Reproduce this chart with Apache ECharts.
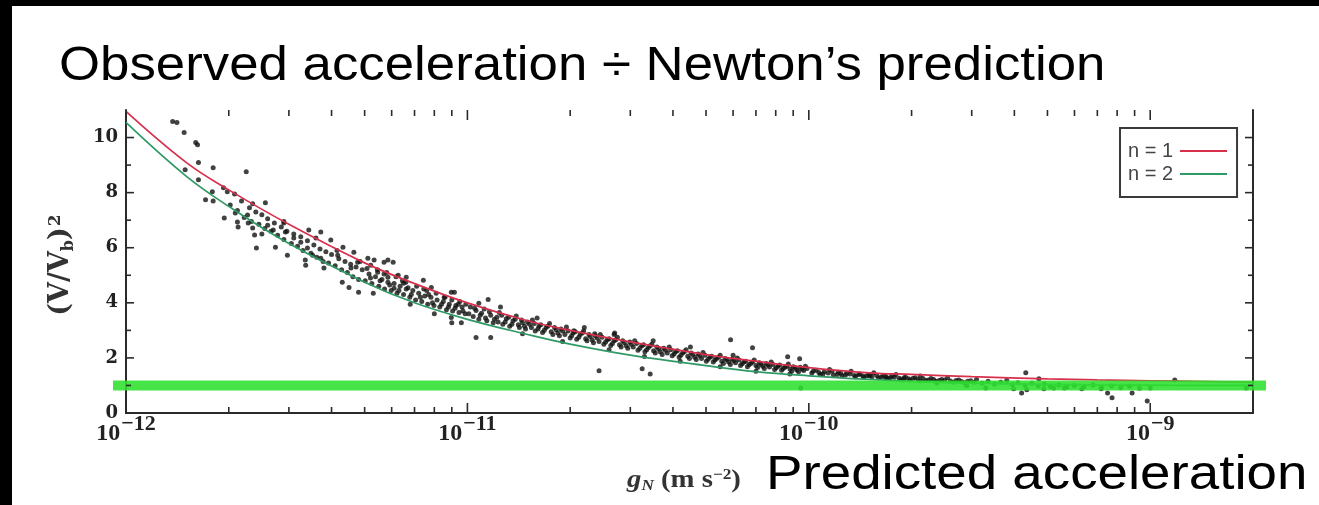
<!DOCTYPE html>
<html>
<head>
<meta charset="utf-8">
<script src="https://cdn.jsdelivr.net/npm/echarts@6/dist/echarts.min.js"></script>
<style>
html,body{margin:0;padding:0;background:#fff;overflow:hidden;}
#c{position:absolute;left:0;top:0;width:1319px;height:505px;}
.blk{position:absolute;background:#000;z-index:5;}
</style>
</head>
<body>
<div id="c"></div>
<div class="blk" style="left:0;top:0;width:12px;height:505px;"></div>
<div class="blk" style="left:0;top:0;width:1319px;height:6px;"></div>
<script>
// ---- data (gN in m s^-2, ratio = (V/Vb)^2) ----
const X_UNIT = 1e-12;                 // axis works in units of 1e-12 m s^-2
const X_MIN = 1e-12, X_MAX = 2e-9;
const Y_MIN = 0, Y_MAX = 11, Y_STEP = 2;
const BAND_LEVEL = 1;                 // highlighted Newtonian ratio

const curveG  = [1e-12,1.5e-12,2e-12,3e-12,5e-12,7e-12,1e-11,1.5e-11,2e-11,3e-11,5e-11,7e-11,1e-10,1.5e-10,2e-10,3e-10,5e-10,7e-10,1e-9,1.5e-9,2e-9];
const curveN1 = [10.95,9.1,8.1,6.85,5.45,4.7,4.0,3.35,3.0,2.58,2.12,1.88,1.65,1.46,1.4,1.32,1.24,1.2,1.17,1.14,1.12];
const curveN2 = [10.55,8.6,7.5,6.15,4.75,4.0,3.4,2.85,2.5,2.1,1.72,1.5,1.35,1.22,1.15,1.08,1.04,1.02,1.01,1.0,1.0];

const ptsLeft = [[1.37e-12,10.58],[1.41e-12,10.55],[1.48e-12,10.18],[1.6e-12,9.82],[1.62e-12,9.74],[1.63e-12,9.09],[1.49e-12,8.83],[1.63e-12,8.47],[1.8e-12,8.9],[2.25e-12,8.76],[1.71e-12,7.74],[1.8e-12,7.7],[1.79e-12,8.03],[1.93e-12,8.18],[1.98e-12,8.03],[1.94e-12,7.08],[2.09e-12,7.26],[2.12e-12,6.93],[2.13e-12,6.75],[2.27e-12,7.19],[2.28e-12,6.9],[2.35e-12,6.72],[2.38e-12,6.46],[2.41e-12,5.99],[2.56e-12,7.63],[2.74e-12,6.02],[2.6e-12,6.82],[2.7e-12,6.64],[2.9e-12,6.9],[2.93e-12,6.57],[2.97e-12,5.73],[3.1e-12,6.35],[3.25e-12,6.2],[3.43e-12,6.64],[3.72e-12,6.57],[3.4e-12,5.99],[3.52e-12,5.73],[3.36e-12,5.36],[3.8e-12,5.26],[3.72e-12,5.62],[3.98e-12,6.28],[4.32e-12,6.02],[4.17e-12,5.73],[4.65e-12,5.84],[4.77e-12,5.47],[4.56e-12,5.26],[4.5e-12,4.56],[4.8e-12,4.38],[5.11e-12,5.62],[5.21e-12,5.36],[5.33e-12,5.55],[5.7e-12,5.47],[5.85e-12,5.55],[6.06e-12,5.47],[5.46e-12,5.11],[5.85e-12,4.93],[6.27e-12,5.0],[6.62e-12,4.93],[6.1e-12,4.53],[6.5e-12,4.71],[7.43e-12,4.82],[7.84e-12,4.56],[8.97e-12,4.38]];

const ptsCloudA = [[2.02e-12,7.55],[2.08e-12,7.95],[2.12e-12,7.35],[2.18e-12,7.7],[2.22e-12,7.1],[2.3e-12,7.45],[2.33e-12,6.95],[2.4e-12,7.3],[2.45e-12,6.85],[2.5e-12,7.2],[2.55e-12,6.7],[2.6e-12,7.05],[2.66e-12,6.6],[2.72e-12,6.9],[2.78e-12,6.45],[2.85e-12,6.75],[2.9e-12,6.3],[2.96e-12,6.6],[3.05e-12,6.15],[3.1e-12,6.5],[3.18e-12,6.05],[3.25e-12,6.4],[3.3e-12,5.9],[3.4e-12,6.25],[3.48e-12,5.8],[3.55e-12,6.1],[3.62e-12,5.65],[3.7e-12,5.95],[3.78e-12,5.5],[3.85e-12,5.85],[3.92e-12,5.45],[4.0e-12,5.75],[4.1e-12,5.35],[4.2e-12,5.6],[4.28e-12,5.2],[4.38e-12,5.5],[4.45e-12,5.1],[4.55e-12,5.4],[4.62e-12,4.95],[4.72e-12,5.3],[4.8e-12,4.85],[4.92e-12,5.2],[5.02e-12,4.8],[5.15e-12,5.05],[5.25e-12,4.7],[5.38e-12,4.95],[5.5e-12,4.6],[5.62e-12,4.85],[5.72e-12,4.5],[5.85e-12,4.75],[5.98e-12,4.45],[6.1e-12,4.7],[6.22e-12,4.35],[6.35e-12,4.6],[6.5e-12,4.3],[6.62e-12,4.5],[6.78e-12,4.2],[6.92e-12,4.45],[7.05e-12,4.1],[7.2e-12,4.35],[7.35e-12,4.05],[7.5e-12,4.25],[7.65e-12,3.95],[7.82e-12,4.2],[7.98e-12,3.9],[8.15e-12,4.1],[8.3e-12,3.85],[8.5e-12,4.05],[8.68e-12,3.75],[8.85e-12,3.95],[9.05e-12,3.7],[9.25e-12,3.9],[9.45e-12,3.65],[9.65e-12,3.85],[9.85e-12,3.6],[2.5e-12,6.5],[3.35e-12,5.55],[4.3e-12,4.75],[5.3e-12,4.35],[6.8e-12,3.95],[8.0e-12,3.6],[2.35e-12,7.6],[2.9e-12,6.95],[3.6e-12,6.35],[4.15e-12,5.9],[4.85e-12,5.5],[5.7e-12,5.05],[6.6e-12,4.75],[7.6e-12,4.45],[8.6e-12,4.2],[9.5e-12,4.05]];

const ptsCloudA2 = [[5.08e-12,5.25],[5.2e-12,4.9],[5.45e-12,5.2],[5.55e-12,4.8],[5.8e-12,5.1],[5.92e-12,4.65],[6.18e-12,4.95],[6.3e-12,4.45],[6.45e-12,4.8],[6.7e-12,4.55],[6.85e-12,4.3],[7.1e-12,4.6],[7.28e-12,4.2],[7.45e-12,4.5],[7.7e-12,4.3],[7.9e-12,4.0],[8.1e-12,4.35],[8.4e-12,3.95],[8.55e-12,4.2],[8.8e-12,3.85],[9.0e-12,4.1],[9.2e-12,3.8],[9.4e-12,3.95],[9.7e-12,3.7],[9.9e-12,3.95]];

const ptsCloudB = [[1.02e-11,3.85],[1.04e-11,3.5],[1.06e-11,3.72],[1.08e-11,3.4],[1.1e-11,3.62],[1.12e-11,3.78],[1.14e-11,3.35],[1.17e-11,3.55],[1.19e-11,3.28],[1.22e-11,3.48],[1.24e-11,3.65],[1.27e-11,3.22],[1.3e-11,3.42],[1.33e-11,3.15],[1.36e-11,3.35],[1.39e-11,3.52],[1.42e-11,3.1],[1.45e-11,3.28],[1.48e-11,3.05],[1.52e-11,3.22],[1.55e-11,3.38],[1.58e-11,2.98],[1.62e-11,3.15],[1.66e-11,2.92],[1.7e-11,3.1],[1.74e-11,3.25],[1.78e-11,2.85],[1.82e-11,3.02],[1.86e-11,2.8],[1.9e-11,2.98],[1.95e-11,3.12],[2.0e-11,2.72],[2.04e-11,2.9],[2.09e-11,2.68],[2.14e-11,2.85],[2.19e-11,2.98],[2.24e-11,2.62],[2.29e-11,2.78],[2.34e-11,2.55],[2.4e-11,2.72],[2.45e-11,2.85],[2.51e-11,2.5],[2.57e-11,2.66],[2.63e-11,2.45],[2.69e-11,2.62],[2.75e-11,2.75],[2.82e-11,2.4],[2.88e-11,2.55],[2.95e-11,2.35],[3.02e-11,2.5],[3.09e-11,2.62],[3.16e-11,2.28],[3.24e-11,2.44],[3.31e-11,2.22],[3.39e-11,2.38],[3.47e-11,2.5],[3.55e-11,2.18],[3.63e-11,2.32],[3.72e-11,2.12],[3.8e-11,2.28],[3.9e-11,2.4],[3.98e-11,2.08],[4.07e-11,2.22],[4.17e-11,2.02],[4.27e-11,2.18],[4.37e-11,2.3],[4.47e-11,1.98],[4.57e-11,2.12],[4.68e-11,1.94],[4.79e-11,2.08],[4.9e-11,2.2],[5.01e-11,1.88],[5.13e-11,2.02],[5.25e-11,1.85],[5.37e-11,1.98],[5.5e-11,2.1],[5.62e-11,1.8],[5.75e-11,1.93],[5.89e-11,1.76],[6.03e-11,1.9],[6.17e-11,2.0],[6.31e-11,1.72],[6.46e-11,1.85],[6.61e-11,1.68],[6.76e-11,1.8],[6.92e-11,1.92],[7.08e-11,1.65],[7.24e-11,1.77],[7.41e-11,1.62],[7.59e-11,1.74],[7.76e-11,1.85],[7.94e-11,1.58],[8.13e-11,1.7],[8.32e-11,1.55],[8.51e-11,1.66],[8.71e-11,1.78],[8.91e-11,1.52],[9.12e-11,1.63],[9.33e-11,1.5],[9.55e-11,1.6],[9.77e-11,1.7],[1.25e-11,3.85],[1.6e-11,3.45],[2.2e-11,3.1],[2.7e-11,2.9],[3.5e-11,2.62],[4.5e-11,2.4],[6.0e-11,2.1],[1.45e-11,2.88],[1.9e-11,2.6],[2.6e-11,2.3],[3.3e-11,2.05],[4.2e-11,1.88],[5.5e-11,1.68],[7.0e-11,1.52],[8.8e-11,1.42]];

const ptsCloudB2 = [[1.01e-11,3.6],[1.05e-11,3.8],[1.09e-11,3.55],[1.13e-11,3.45],[1.16e-11,3.68],[1.2e-11,3.4],[1.23e-11,3.3],[1.26e-11,3.55],[1.29e-11,3.3],[1.32e-11,3.48],[1.35e-11,3.22],[1.38e-11,3.4],[1.41e-11,3.2],[1.44e-11,3.38],[1.47e-11,3.15],[1.5e-11,3.3],[1.54e-11,3.1],[1.57e-11,3.25],[1.61e-11,3.05],[1.64e-11,3.2],[1.68e-11,3.0],[1.72e-11,3.15],[1.76e-11,2.95],[1.8e-11,3.1],[1.84e-11,2.9],[1.88e-11,3.05],[1.93e-11,2.85],[1.97e-11,2.98],[2.02e-11,2.8],[2.07e-11,2.95],[2.12e-11,2.75],[2.17e-11,2.9],[2.22e-11,2.7],[2.27e-11,2.85],[2.32e-11,2.65],[2.37e-11,2.8],[2.43e-11,2.6],[2.48e-11,2.75],[2.54e-11,2.58],[2.6e-11,2.7],[2.66e-11,2.52],[2.72e-11,2.66],[2.79e-11,2.48],[2.85e-11,2.62],[2.92e-11,2.44],[2.99e-11,2.58],[3.06e-11,2.4],[3.13e-11,2.52],[3.2e-11,2.35],[3.28e-11,2.48],[3.35e-11,2.3],[3.43e-11,2.44],[3.51e-11,2.26],[3.59e-11,2.4],[3.67e-11,2.22],[3.76e-11,2.35],[3.85e-11,2.18],[3.94e-11,2.3],[4.03e-11,2.14],[4.12e-11,2.26],[4.22e-11,2.1],[4.32e-11,2.22],[4.42e-11,2.06],[4.52e-11,2.18],[4.63e-11,2.02],[4.74e-11,2.14],[4.85e-11,1.98],[4.96e-11,2.1],[5.07e-11,1.95],[5.19e-11,2.06],[5.31e-11,1.92],[5.44e-11,2.02],[5.56e-11,1.88],[5.69e-11,1.98],[5.82e-11,1.85],[5.96e-11,1.95],[6.1e-11,1.82],[6.24e-11,1.92],[6.38e-11,1.79],[6.53e-11,1.88],[6.68e-11,1.75],[6.84e-11,1.85],[7.0e-11,1.72],[7.16e-11,1.82],[7.33e-11,1.7],[7.5e-11,1.8],[7.67e-11,1.67],[7.85e-11,1.76],[8.03e-11,1.64],[8.22e-11,1.74],[8.41e-11,1.62],[8.61e-11,1.7],[8.81e-11,1.6],[9.01e-11,1.68],[9.22e-11,1.56],[9.44e-11,1.66],[9.66e-11,1.54],[9.88e-11,1.62]];

const ptsMid = [[9.16e-12,4.38],[1.08e-11,3.98],[1.15e-11,4.12],[1.06e-11,2.74],[1.17e-11,2.74],[8.97e-12,3.47],[9.0e-12,3.28],[9.6e-12,3.28],[2.43e-11,1.53],[3.25e-11,1.61],[3.43e-11,1.42],[5.9e-11,2.66],[6.84e-11,2.37],[8.67e-11,2.04],[9.4e-11,1.97],[9.47e-11,0.91],[2.69e-11,2.85],[2.36e-11,2.88],[2.05e-11,2.99]];

const ptsCloudC = [[1.02e-10,1.45],[1.05e-10,1.55],[1.08e-10,1.4],[1.11e-10,1.5],[1.15e-10,1.58],[1.18e-10,1.38],[1.22e-10,1.48],[1.25e-10,1.35],[1.29e-10,1.44],[1.33e-10,1.52],[1.37e-10,1.32],[1.41e-10,1.42],[1.45e-10,1.3],[1.5e-10,1.38],[1.55e-10,1.46],[1.6e-10,1.28],[1.65e-10,1.36],[1.7e-10,1.25],[1.75e-10,1.33],[1.8e-10,1.4],[1.86e-10,1.22],[1.92e-10,1.3],[1.98e-10,1.2],[2.05e-10,1.28],[2.12e-10,1.34],[2.2e-10,1.18],[2.28e-10,1.25],[2.36e-10,1.15],[2.45e-10,1.22],[2.55e-10,1.28],[2.65e-10,1.12],[2.75e-10,1.2],[2.86e-10,1.1],[2.98e-10,1.17],[3.1e-10,1.22],[3.22e-10,1.08],[3.35e-10,1.15],[3.5e-10,1.05],[3.65e-10,1.12],[3.8e-10,1.18],[3.95e-10,1.03],[4.1e-10,1.1],[4.3e-10,1.0],[4.5e-10,1.08],[4.7e-10,0.98],[4.9e-10,1.05],[5.1e-10,0.96],[5.4e-10,1.02],[5.7e-10,0.94],[6.0e-10,1.0],[6.4e-10,0.95],[6.8e-10,1.02],[7.2e-10,0.93],[7.7e-10,0.98],[8.2e-10,0.92],[8.7e-10,0.97],[9.3e-10,0.9]];

const ptsCloudC2 = [[1.03e-10,1.52],[1.07e-10,1.47],[1.1e-10,1.42],[1.14e-10,1.45],[1.17e-10,1.52],[1.21e-10,1.4],[1.24e-10,1.44],[1.28e-10,1.38],[1.32e-10,1.42],[1.36e-10,1.36],[1.4e-10,1.4],[1.44e-10,1.34],[1.48e-10,1.35],[1.53e-10,1.32],[1.58e-10,1.36],[1.63e-10,1.3],[1.68e-10,1.33],[1.73e-10,1.28],[1.78e-10,1.3],[1.84e-10,1.26],[1.9e-10,1.28],[1.96e-10,1.24],[2.02e-10,1.26],[2.09e-10,1.22],[2.16e-10,1.25],[2.24e-10,1.2],[2.32e-10,1.22],[2.41e-10,1.18],[2.5e-10,1.2],[2.6e-10,1.16],[2.7e-10,1.18],[2.8e-10,1.14],[2.92e-10,1.15],[3.05e-10,1.12]];

const ptsRight = [[4.32e-10,1.46],[4.72e-10,1.24],[4.2e-10,0.73],[3.98e-10,0.88],[4.35e-10,0.84],[4.88e-10,0.88],[5.22e-10,0.91],[5.6e-10,0.91],[6.3e-10,0.88],[7.18e-10,0.88],[7.73e-10,0.55],[7.5e-10,0.73],[8.85e-10,0.73],[9.8e-10,0.44],[1.0e-9,0.91],[1.91e-9,0.91],[1.18e-9,1.2],[2.9e-10,0.99],[3.3e-10,0.91],[2.37e-10,1.09],[2.12e-10,1.17],[1.89e-10,1.2],[1.68e-10,1.28],[1.51e-10,1.35]];

// axis decoration: tick positions
const DECADES = [1e-12,1e-11,1e-10,1e-9];
const MINOR_MANTISSAS = [2,3,4,5,6,7,8,9];
const Y_MAJOR_TICKS = [0,2,4,6,8,10];
const Y_MINOR_TICKS = [1,3,5,7,9];

// ---- build ----
const toAxis = p => [p[0] / X_UNIT, p[1]];
const allPts = [].concat(ptsLeft, ptsCloudA, ptsCloudA2, ptsCloudB, ptsCloudB2, ptsMid, ptsCloudC, ptsCloudC2, ptsRight).map(toAxis);
const n1Data = curveG.map((g, i) => [g / X_UNIT, curveN1[i]]);
const n2Data = curveG.map((g, i) => [g / X_UNIT, curveN2[i]]);
const xMajorData = DECADES.map(d => [d / X_UNIT, 1]);
const xMinorData = [];
DECADES.forEach(d => MINOR_MANTISSAS.forEach(m => { if (m * d < X_MAX) xMinorData.push([m * d / X_UNIT, 1]); }));
const yMajorData = Y_MAJOR_TICKS.map(v => [X_MIN / X_UNIT, v]);
const yMinorData = Y_MINOR_TICKS.map(v => [X_MIN / X_UNIT, v]);

const TICK = '#2a2a2a';
function xTicks(len) {
  return (params, api) => {
    const cs = params.coordSys;
    const x = api.coord([api.value(0), api.value(1)])[0];
    const yb = cs.y + cs.height, yt = cs.y;
    const st = {stroke: TICK, lineWidth: 1.6};
    return {type: 'group', children: [
      {type: 'line', shape: {x1: x, y1: yb, x2: x, y2: yb - len}, style: st},
      {type: 'line', shape: {x1: x, y1: yt, x2: x, y2: yt + len}, style: st}
    ]};
  };
}
function yTicks(len) {
  return (params, api) => {
    const cs = params.coordSys;
    const y = api.coord([api.value(0), api.value(1)])[1];
    const xl = cs.x, xr = cs.x + cs.width;
    const st = {stroke: TICK, lineWidth: 1.6};
    return {type: 'group', children: [
      {type: 'line', shape: {x1: xl, y1: y, x2: xl + len, y2: y}, style: st},
      {type: 'line', shape: {x1: xr, y1: y, x2: xr - len, y2: y}, style: st}
    ]};
  };
}

const chart = echarts.init(document.getElementById('c'), null, {renderer: 'canvas'});
const axisLineStyle = {color: '#2a2a2a', width: 2};
const xLabelFmt = v => {
  const l = Math.log10(v);
  if (Math.abs(l - Math.round(l)) > 1e-6) return '';
  const e = Math.round(l) + Math.round(Math.log10(X_UNIT));
  return '{b|10}{s|' + (e < 0 ? '\u2212' : '') + Math.abs(e) + '}';
};
const serifBold = {fontFamily: 'Liberation Serif', fontWeight: 'bold', color: '#222'};

chart.setOption({
  animation: false,
  backgroundColor: 'transparent',
  grid: {left: 126, right: 66, top: 110, bottom: 92},
  xAxis: [{
    type: 'log', logBase: 10, min: X_MIN / X_UNIT, max: X_MAX / X_UNIT, position: 'bottom',
    axisLine: {show: true, lineStyle: axisLineStyle},
    axisTick: {show: false}, splitLine: {show: false},
    axisLabel: {
      margin: 13, formatter: xLabelFmt,
      rich: {
        b: Object.assign({fontSize: 24, lineHeight: 20, verticalAlign: 'bottom'}, serifBold),
        s: Object.assign({fontSize: 22, lineHeight: 16, verticalAlign: 'bottom', padding: [0, 0, 11, 1]}, serifBold)
      }
    }
  }, {
    type: 'log', logBase: 10, min: X_MIN / X_UNIT, max: X_MAX / X_UNIT, position: 'top',
    axisLine: {show: true, lineStyle: axisLineStyle},
    axisTick: {show: false}, splitLine: {show: false}, axisLabel: {show: false}
  }],
  yAxis: [{
    type: 'value', min: Y_MIN, max: Y_MAX, interval: Y_STEP, position: 'left',
    axisLine: {show: true, lineStyle: axisLineStyle},
    axisTick: {show: false}, splitLine: {show: false},
    axisLabel: {margin: 8, formatter: v => (v % Y_STEP === 0 ? String(v) : ''), fontFamily: 'DejaVu Serif', fontWeight: 'bold', fontSize: 18, color: '#222'}
  }, {
    type: 'value', min: Y_MIN, max: Y_MAX, interval: Y_STEP, position: 'right',
    axisLine: {show: true, lineStyle: axisLineStyle},
    axisTick: {show: false}, splitLine: {show: false}, axisLabel: {show: false}
  }],
  legend: {
    data: ['n = 1', 'n = 2'], orient: 'vertical', left: 1120, top: 128, align: 'right',
    icon: 'rect', itemWidth: 47, itemHeight: 2, itemGap: 3, padding: [13, 10, 13, 8],
    borderColor: '#3a3a3a', borderWidth: 2, borderRadius: 0, backgroundColor: '#fff',
    selectedMode: false,
    textStyle: {fontFamily: 'Liberation Sans', fontSize: 20, color: '#444', padding: [0, 2, 0, 0]}
  },
  series: [
    {type: 'scatter', name: 'galaxies', data: allPts, symbol: 'circle', symbolSize: 5,
     itemStyle: {color: '#111412'}, z: 2, silent: true},
    {type: 'line', name: 'n = 1', data: n1Data, smooth: 0.4, symbol: 'none', showSymbol: false,
     lineStyle: {color: '#d8304c', width: 1.7}, itemStyle: {color: '#d8304c'}, z: 3},
    {type: 'line', name: 'n = 2', data: n2Data, smooth: 0.4, symbol: 'none', showSymbol: false,
     lineStyle: {color: '#2f9a66', width: 1.7}, itemStyle: {color: '#2f9a66'}, z: 3},
    {type: 'custom', name: 'x major ticks', data: xMajorData, silent: true, z: 5, clip: false, renderItem: xTicks(10)},
    {type: 'custom', name: 'x minor ticks', data: xMinorData, silent: true, z: 5, clip: false, renderItem: xTicks(6)},
    {type: 'custom', name: 'y major ticks', data: yMajorData, silent: true, z: 5, clip: false, renderItem: yTicks(8)},
    {type: 'custom', name: 'y minor ticks', data: yMinorData, silent: true, z: 5, clip: false, renderItem: yTicks(5)},
    {type: 'custom', name: 'band', data: [[X_MIN / X_UNIT, BAND_LEVEL]], silent: true, z: 4, clip: false,
     renderItem: (params, api) => {
       const cs = params.coordSys;
       const y = api.coord([api.value(0), api.value(1)])[1];
       return {type: 'line', shape: {x1: cs.x - 13, y1: y, x2: cs.x + cs.width + 13, y2: y},
               style: {stroke: '#2ee02e', lineWidth: 10, opacity: 0.88}};
     }}
  ],
  graphic: [
    {type: 'text', x: 59, y: 67, scaleX: 1.1, style: {text: 'Observed acceleration \u00f7 Newton\u2019s prediction', font: '48px "Liberation Sans"', fill: '#000', verticalAlign: 'middle', align: 'left'}},
    {type: 'text', x: 766, y: 476, scaleX: 1.14, style: {text: 'Predicted acceleration', font: '48px "Liberation Sans"', fill: '#000', verticalAlign: 'middle', align: 'left'}},
    {type: 'text', x: 62, y: 265, rotation: Math.PI / 2, style: {
      text: '{a|(V/V}{s|b}{a|)}{p|2}', align: 'center', verticalAlign: 'middle',
      rich: {
        a: {fontFamily: 'DejaVu Serif', fontWeight: 'bold', fontSize: 27, fill: '#333', lineHeight: 29, verticalAlign: 'top'},
        s: {fontFamily: 'DejaVu Serif', fontWeight: 'bold', fontSize: 16, fill: '#333', lineHeight: 17, verticalAlign: 'bottom'},
        p: {fontFamily: 'DejaVu Serif', fontWeight: 'bold', fontSize: 17, fill: '#333', lineHeight: 17, verticalAlign: 'top', padding: [0, 0, 0, 1]}
      }}},
    {type: 'text', x: 627, y: 481, scaleX: 1.15, style: {
      text: '{g|g}{n|N}{a| (m s}{p|\u22122}{a|)}', align: 'left', verticalAlign: 'middle',
      rich: {
        g: {fontFamily: 'Liberation Serif', fontStyle: 'italic', fontWeight: 'bold', fontSize: 25, fill: '#333', lineHeight: 26, verticalAlign: 'top'},
        n: {fontFamily: 'Liberation Serif', fontStyle: 'italic', fontWeight: 'bold', fontSize: 15, fill: '#333', lineHeight: 15, verticalAlign: 'bottom'},
        a: {fontFamily: 'Liberation Serif', fontWeight: 'bold', fontSize: 25, fill: '#333', lineHeight: 26, verticalAlign: 'top'},
        p: {fontFamily: 'Liberation Serif', fontWeight: 'bold', fontSize: 15, fill: '#333', lineHeight: 15, verticalAlign: 'top'}
      }}}
  ]
});
</script>
</body>
</html>
